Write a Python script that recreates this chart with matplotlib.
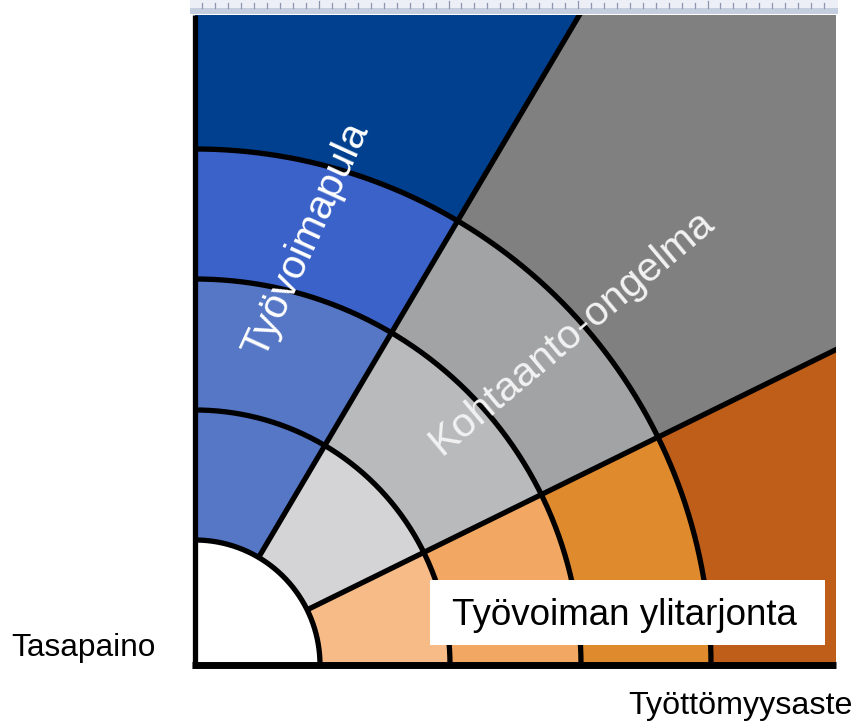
import numpy as np
import matplotlib
matplotlib.use("Agg")
import matplotlib.pyplot as plt
from matplotlib.patches import Wedge, Rectangle

# ---- data ----
ring_radii = [125, 255, 386, 516]          # arc boundaries (inner -> outer)
sector_angles = [0, 26.2, 59.4, 90]        # ray boundaries in degrees
sector_names = ["Työvoiman ylitarjonta", "Kohtaanto-ongelma", "Työvoimapula"]
orange_colors = ["#F7BB87", "#F2A862", "#E08A2E", "#BF5E19"]
grey_colors = ["#D4D4D6", "#B9BABC", "#A2A3A5", "#808080"]
blue_colors = ["#5577C6", "#5577C6", "#3A62C8", "#00408F"]
sector_colors = [orange_colors, grey_colors, blue_colors]
origin_label = "Tasapaino"
x_label = "Työttömyysaste"

W, H = 856, 721
fig = plt.figure(figsize=(W / 100, H / 100), dpi=100)
plt.rcParams['font.family'] = ['Liberation Sans', 'DejaVu Sans']


def fx(px):
    return px / W


def fy(py):
    return 1 - py / H


# main axes: pixel x 192..836, y 15..668 ; origin at pixel (195, 665)
ax = fig.add_axes([fx(192), fy(668), (836 - 192) / W, (668 - 15) / H])
ax.set_xlim(-3, 641)
ax.set_ylim(-3, 650)
ax.set_aspect('equal', adjustable='box')
ax.axis('off')
ax.set_facecolor('white')

far = 2000
radii_full = ring_radii + [far]
for s in range(3):
    t1, t2 = sector_angles[s], sector_angles[s + 1]
    for i in range(4):
        r_in, r_out = radii_full[i], radii_full[i + 1]
        ax.add_patch(Wedge((0, 0), r_out, t1, t2, width=r_out - r_in,
                           facecolor=sector_colors[s][i], edgecolor='none',
                           zorder=1))

lw_line = 3.8
th = np.linspace(0, np.pi / 2, 300)
for r in ring_radii:
    ax.plot(r * np.cos(th), r * np.sin(th), color='black', lw=lw_line,
            solid_capstyle='butt', zorder=3)
for a in sector_angles[1:-1]:
    ar = np.deg2rad(a)
    ax.plot([ring_radii[0] * np.cos(ar), far * np.cos(ar)],
            [ring_radii[0] * np.sin(ar), far * np.sin(ar)],
            color='black', lw=lw_line, solid_capstyle='butt', zorder=3)

# axis lines
ax.plot([0, 0], [-3, 650], color='black', lw=3.8, clip_on=False, zorder=4,
        solid_capstyle='butt')
ax.plot([-3, 641], [0, 0], color='black', lw=5.0, clip_on=False, zorder=4,
        solid_capstyle='butt')

# label box for lower sector
ax.add_patch(Rectangle((235, 20), 395, 65, facecolor='white',
                       edgecolor='none', zorder=5))
fig.text(fx(624), fy(625), sector_names[0], ha='center', va='baseline',
         fontsize=26.5, color='black', zorder=6)

fig.text(fx(572), fy(332), sector_names[1], ha='center', va='center',
         rotation=40, rotation_mode='anchor', fontsize=29.5,
         color='#F2F2F2', zorder=6)
fig.text(fx(306), fy(240), sector_names[2], ha='center', va='center',
         rotation=65.5, rotation_mode='anchor', fontsize=29.5,
         color='white', zorder=6)

fig.text(fx(11), fy(656), origin_label, ha='left', va='baseline',
         fontsize=22.8, color='black')
fig.text(fx(853), fy(714), x_label, ha='right', va='baseline',
         fontsize=23.2, color='black')

# ruler strip at top
axr = fig.add_axes([fx(190), fy(14), (838 - 190) / W, 14 / H])
axr.set_xlim(190, 838)
axr.set_ylim(14, 0)
axr.axis('off')
axr.add_patch(Rectangle((190, 0), 648, 14, facecolor='#EDEFF7',
                        edgecolor='none'))
axr.add_patch(Rectangle((190, 7.5), 648, 6.5, facecolor='#C5CEDF',
                        edgecolor='none'))
ticks = 319 + 12.95 * np.arange(-10, 41)
for k, t in zip(range(-10, 41), ticks):
    if 190 < t < 836:
        top = 0.5 if k % 10 == 0 else 3
        axr.plot([t, t], [top, 7.5], color='#8C96AC', lw=0.9)

fig.savefig('out.png', dpi=100)
